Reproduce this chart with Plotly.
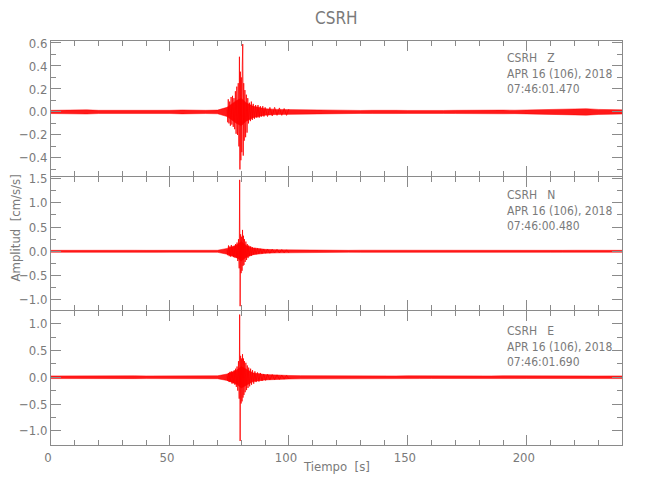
import plotly.graph_objects as go

# ---------------- data ----------------
title = "CSRH"
components = ["Z", "N", "E"]
dates = ["APR 16 (106), 2018", "APR 16 (106), 2018", "APR 16 (106), 2018"]
start_times = ["07:46:01.470", "07:46:00.480", "07:46:01.690"]

# noise band (half width) sampled at these times
t_env = [0, 5, 10, 15, 20, 25, 30, 35, 40, 45, 50, 55, 60, 65, 70, 74, 76, 78, 80, 82, 85,
         90, 95, 100, 105, 110, 115, 120, 125, 130, 135, 140, 145, 150, 155, 160, 165, 170,
         175, 180, 185, 190, 195, 200, 205, 210, 215, 220, 225, 230, 235, 240]
z_env = [0.014, 0.016, 0.013, 0.018, 0.014, 0.013, 0.016, 0.014, 0.013, 0.015, 0.014, 0.017,
         0.013, 0.014, 0.016, 0.04, 0.07, 0.1, 0.12, 0.08, 0.05, 0.028, 0.022, 0.02, 0.018,
         0.017, 0.016, 0.014, 0.015, 0.013, 0.014, 0.016, 0.014, 0.013, 0.015, 0.014, 0.013,
         0.014, 0.016, 0.015, 0.014, 0.016, 0.015, 0.017, 0.016, 0.018, 0.02, 0.024, 0.028,
         0.022, 0.02, 0.018]
n_env = [0.02, 0.022, 0.019, 0.021, 0.02, 0.023, 0.019, 0.021, 0.02, 0.022, 0.019, 0.021,
         0.02, 0.022, 0.021, 0.06, 0.09, 0.13, 0.2, 0.12, 0.07, 0.04, 0.032, 0.028, 0.025,
         0.023, 0.022, 0.021, 0.02, 0.022, 0.021, 0.02, 0.019, 0.021, 0.02, 0.022, 0.021, 0.02,
         0.019, 0.021, 0.02, 0.022, 0.021, 0.02, 0.019, 0.021, 0.02, 0.021, 0.022, 0.02, 0.019,
         0.02]
e_env = [0.025, 0.027, 0.024, 0.026, 0.025, 0.028, 0.024, 0.026, 0.025, 0.027, 0.025, 0.026,
         0.024, 0.026, 0.027, 0.06, 0.09, 0.13, 0.2, 0.15, 0.08, 0.05, 0.038, 0.033, 0.03,
         0.028, 0.027, 0.025, 0.026, 0.025, 0.024, 0.026, 0.025, 0.027, 0.025, 0.024, 0.026,
         0.025, 0.024, 0.026, 0.025, 0.027, 0.025, 0.024, 0.026, 0.025, 0.024, 0.026, 0.025,
         0.024, 0.025, 0.025]

# burst peaks (alternating maxima / minima)
z_t = [74.0, 74.3, 74.5, 74.8, 75.1, 75.4, 75.7, 76.0, 76.3, 76.6, 76.9, 77.2, 77.5, 77.8, 78.1,
       78.4, 78.7, 79.0, 79.2, 79.4, 79.6, 79.8, 80.0, 80.2, 80.4, 80.5, 80.6, 80.8, 81.0, 81.2,
       81.5, 81.8, 82.1, 82.4, 82.7, 83.0, 83.4, 83.8, 84.2, 84.6, 85.0, 85.5, 86.0, 86.5, 87.0,
       87.5, 88.0, 88.5, 89.0, 89.5, 90.0, 91.0, 92.0, 93.0, 94.0, 95.0, 96.0, 97.0, 98.0, 99.0,
       100.0]
z_v = [0.02, -0.09, 0.11, -0.10, 0.09, -0.12, 0.13, -0.11, 0.14, -0.13, 0.12, -0.15, 0.18, -0.19,
       0.22, -0.20, 0.25, -0.30, 0.48, -0.50, 0.35, -0.42, 0.30, -0.35, 0.40, -0.25, 0.59, -0.38,
       0.25, -0.25, 0.19, -0.22, 0.15, -0.18, 0.12, -0.10, 0.08, -0.08, 0.09, -0.07, 0.07, -0.06,
       0.06, -0.05, 0.06, -0.05, 0.05, -0.04, 0.05, -0.04, 0.04, -0.04, 0.04, -0.035, 0.04, -0.03,
       0.035, -0.03, 0.03, -0.03, 0.025]

n_t = [74.0, 74.3, 74.6, 74.9, 75.2, 75.5, 75.8, 76.1, 76.4, 76.7, 77.0, 77.3, 77.6, 77.9, 78.2,
       78.5, 78.8, 79.1, 79.3, 79.5, 79.7, 79.9, 80.1, 80.3, 80.5, 80.7, 80.9, 81.1, 81.3, 81.6,
       81.9, 82.2, 82.5, 82.8, 83.1, 83.5, 83.9, 84.3, 84.7, 85.2, 85.7, 86.2, 86.8, 87.4, 88.0,
       88.7, 89.4, 90.2, 91.0, 92.0, 93.0, 94.0, 95.0, 96.0, 97.0, 98.0, 99.0, 100.0]
n_v = [0.03, -0.08, 0.12, -0.10, 0.10, -0.11, 0.13, -0.10, 0.09, -0.12, 0.10, -0.13, 0.15, -0.14,
       0.18, -0.20, 0.25, -0.35, 1.47, -1.13, 0.35, -0.45, 0.30, -0.40, 0.44, -0.30, 0.32, -0.28,
       0.25, -0.22, 0.20, -0.18, 0.15, -0.14, 0.12, -0.10, 0.10, -0.09, 0.08, -0.07, 0.07, -0.06,
       0.06, -0.05, 0.05, -0.05, 0.045, -0.04, 0.045, -0.04, 0.04, -0.035, 0.04, -0.035, 0.035,
       -0.03, 0.03, -0.03]

e_t = [74.0, 74.3, 74.6, 74.9, 75.2, 75.5, 75.8, 76.1, 76.4, 76.7, 77.0, 77.3, 77.6, 77.9, 78.2,
       78.5, 78.8, 79.1, 79.3, 79.5, 79.7, 79.9, 80.1, 80.3, 80.5, 80.7, 80.9, 81.1, 81.3, 81.6,
       81.9, 82.2, 82.5, 82.8, 83.1, 83.5, 83.9, 84.3, 84.7, 85.2, 85.7, 86.2, 86.8, 87.4, 88.0,
       88.7, 89.4, 90.2, 91.0, 92.0, 93.0, 94.0, 95.0, 96.0, 97.0, 98.0, 99.0, 100.0]
e_v = [0.03, -0.07, 0.08, -0.09, 0.10, -0.08, 0.11, -0.12, 0.10, -0.11, 0.13, -0.14, 0.16, -0.18,
       0.20, -0.25, 0.30, -0.40, 1.17, -1.19, 0.40, -0.49, 0.35, -0.45, 0.43, -0.38, 0.35, -0.33,
       0.30, -0.28, 0.27, -0.24, 0.22, -0.20, 0.18, -0.17, 0.16, -0.14, 0.13, -0.12, 0.11, -0.09,
       0.09, -0.08, 0.08, -0.07, 0.06, -0.06, 0.055, -0.05, 0.05, -0.045, 0.045, -0.04, 0.04,
       -0.035, 0.035, -0.03]

y_ranges = [[-0.559, 0.617], [-1.21, 1.525], [-1.265, 1.235]]
y_dticks = [0.2, 0.5, 0.5]
x_range = [0, 240]

# ---------------- figure ----------------
W, H = 650, 500
OFF = 8  # page body margin of the rendered html
L, R, T, B = 50.7 - OFF, 622 - OFF, 40.7 - OFF, 445 - OFF
pw, ph = R - L, B - T

def py(p):
    return (B - (p - OFF)) / ph

def px(p):
    return ((p - OFF) - L) / pw

bounds = [(40.7, 176), (177, 310), (311, 445)]
domains = [[py(b), py(a)] for a, b in bounds]

FONT = "Liberation Sans Narrow, DejaVu Sans Condensed, Liberation Sans, sans-serif"
GRAY = "#8a8a8a"
TXT = "#7a7a7a"
RED = "#ff0000"

fig = go.Figure()
envs = [z_env, n_env, e_env]
bursts = [(z_t, z_v), (n_t, n_v), (e_t, e_v)]
for i in range(3):
    xa = "x" if i == 0 else f"x{i+1}"
    ya = "y" if i == 0 else f"y{i+1}"
    fig.add_trace(go.Scatter(x=t_env, y=envs[i], mode="lines", line=dict(width=0.5, color=RED),
                             xaxis=xa, yaxis=ya, showlegend=False, hoverinfo="skip"))
    fig.add_trace(go.Scatter(x=t_env, y=[-v for v in envs[i]], mode="lines",
                             line=dict(width=0.5, color=RED), fill="tonexty",
                             fillcolor="rgba(255,0,0,0.9)",
                             xaxis=xa, yaxis=ya, showlegend=False, hoverinfo="skip"))
    fig.add_trace(go.Scatter(x=bursts[i][0], y=bursts[i][1], mode="lines",
                             line=dict(width=0.8, color=RED),
                             xaxis=xa, yaxis=ya, showlegend=False, hoverinfo="skip"))

axis_common = dict(showline=True, linecolor=GRAY, linewidth=1, mirror="ticks",
                   ticks="inside", tickcolor=GRAY, showgrid=False, zeroline=False,
                   tickfont=dict(family=FONT, size=13, color=TXT))

layout = dict(width=W, height=H, margin=dict(l=L, r=W - R, t=T, b=H - B, autoexpand=False),
              paper_bgcolor="white", plot_bgcolor="white", showlegend=False)

for i in range(3):
    xk = "xaxis" if i == 0 else f"xaxis{i+1}"
    yk = "yaxis" if i == 0 else f"yaxis{i+1}"
    ya = "y" if i == 0 else f"y{i+1}"
    xa = "x" if i == 0 else f"x{i+1}"
    layout[xk] = dict(axis_common, range=x_range, dtick=50, tick0=0, ticklen=10,
                      minor=dict(dtick=10, ticklen=5, ticks="inside", tickcolor=GRAY),
                      showticklabels=(i == 2), anchor=ya, domain=[0, 1], ticklabelshift=-3,
                      **({} if i == 0 else {"matches": "x"}))
    layout[yk] = dict(axis_common, range=y_ranges[i], dtick=y_dticks[i], tick0=0, ticklen=10,
                      tickformat=".1f",
                      minor=dict(dtick=y_dticks[i] / 2, ticklen=5, ticks="inside", tickcolor=GRAY),
                      anchor=xa, domain=domains[i])

fig.update_layout(**layout)

ann = []
ann.append(dict(text=title, x=0.5, y=py(18), xref="paper", yref="paper", showarrow=False,
                font=dict(family=FONT, size=17, color=TXT), xanchor="center", yanchor="middle"))
text_tops = [49, 186, 322]
for i in range(3):
    ann.append(dict(text=f"CSRH   {components[i]}<br>{dates[i]}<br>{start_times[i]}",
                    x=px(505), y=py(text_tops[i]), xref="paper", yref="paper", showarrow=False,
                    align="left", xanchor="left", yanchor="top",
                    font=dict(family=FONT, size=12, color=TXT)))
ann.append(dict(text="Amplitud  [cm/s/s]", x=px(15), y=py(228), xref="paper", yref="paper",
                showarrow=False, textangle=-90, xanchor="center", yanchor="middle",
                font=dict(family=FONT, size=13, color=TXT)))
ann.append(dict(text="Tiempo  [s]", x=px(336), y=py(467), xref="paper", yref="paper",
                showarrow=False, xanchor="center", yanchor="middle",
                font=dict(family=FONT, size=13, color=TXT)))
fig.update_layout(annotations=ann)

fig.write_html("out.html")
